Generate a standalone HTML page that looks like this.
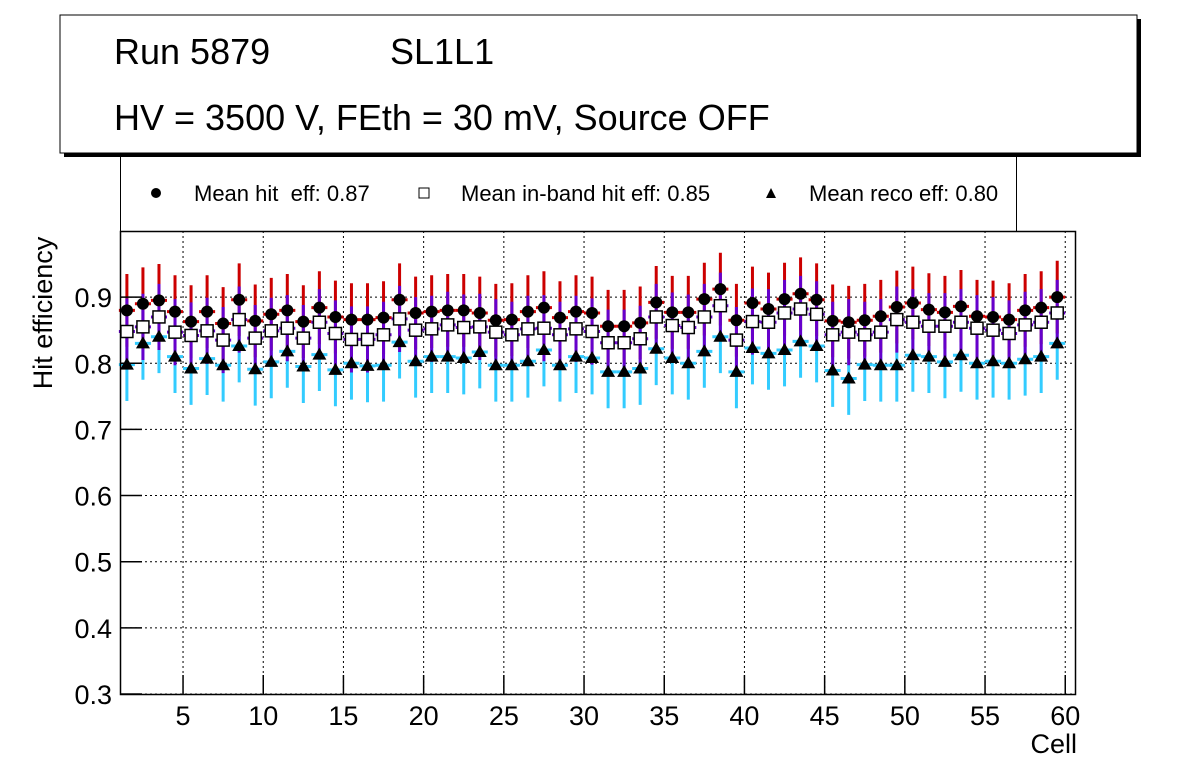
<!DOCTYPE html>
<html><head><meta charset="utf-8"><style>
body{margin:0;background:#fff;font-family:"Liberation Sans",sans-serif}
svg{display:block}
</style></head><body>
<svg id="c" width="1196" height="772" xmlns="http://www.w3.org/2000/svg" font-family="Liberation Sans, sans-serif">
<rect x="64" y="19" width="1077" height="138" fill="#000"/>
<rect x="60" y="15" width="1077" height="138" fill="#fff" stroke="#000" stroke-width="1"/>
<text x="114" y="64" font-size="36">Run 5879</text>
<text x="390" y="64" font-size="36">SL1L1</text>
<text x="114" y="130" font-size="36">HV = 3500 V, FEth = 30 mV, Source OFF</text>
<g>
<path d="M120.5 231 V155.5 H1016.5 V231" fill="none" stroke="#000"/>
<circle cx="156" cy="193" r="5" fill="#000"/>
<text x="194" y="201" font-size="22" xml:space="preserve">Mean hit  eff: 0.87</text>
<rect x="419" y="188" width="10" height="10" fill="#fff" stroke="#000"/>
<text x="461" y="201" font-size="22">Mean in-band hit eff: 0.85</text>
<path d="M771 188 L776 198 L766 198Z" fill="#000"/>
<text x="809" y="201" font-size="22">Mean reco eff: 0.80</text>
</g>
<g id="grid"></g>
<g id="marks"></g>
<rect x="120.5" y="231.5" width="955" height="463" fill="none" stroke="#000" stroke-width="1.5"/>
<g id="axes"></g>
<text transform="translate(52,313) rotate(-90)" text-anchor="middle" font-size="27">Hit efficiency</text>
<text x="1077" y="753" text-anchor="end" font-size="27">Cell</text>
</svg>
<script>
const cells=[];for(let i=1;i<=59;i++)cells.push(i);
const hitEff=[0.88,0.89,0.895,0.878,0.863,0.878,0.86,0.896,0.864,0.874,0.88,0.863,0.884,0.87,0.866,0.866,0.869,0.896,0.876,0.878,0.88,0.88,0.876,0.865,0.866,0.878,0.884,0.869,0.878,0.876,0.856,0.856,0.861,0.892,0.877,0.877,0.897,0.912,0.865,0.891,0.882,0.897,0.905,0.896,0.864,0.862,0.865,0.871,0.885,0.891,0.881,0.877,0.886,0.871,0.87,0.866,0.88,0.884,0.9];
const bandEff=[0.848,0.855,0.87,0.847,0.842,0.849,0.835,0.866,0.838,0.849,0.853,0.838,0.862,0.845,0.836,0.836,0.843,0.867,0.85,0.852,0.858,0.854,0.855,0.847,0.843,0.852,0.853,0.843,0.852,0.848,0.831,0.831,0.837,0.87,0.857,0.854,0.87,0.887,0.835,0.863,0.862,0.876,0.882,0.874,0.843,0.847,0.843,0.847,0.866,0.862,0.856,0.856,0.862,0.853,0.85,0.845,0.858,0.862,0.876];
const recoEff=[0.798,0.83,0.84,0.81,0.792,0.807,0.797,0.826,0.791,0.802,0.818,0.795,0.813,0.79,0.8,0.796,0.797,0.832,0.803,0.81,0.81,0.808,0.817,0.797,0.797,0.803,0.82,0.797,0.81,0.808,0.787,0.787,0.792,0.822,0.808,0.8,0.818,0.84,0.787,0.823,0.815,0.82,0.833,0.826,0.789,0.777,0.798,0.797,0.797,0.812,0.81,0.802,0.812,0.8,0.803,0.8,0.806,0.81,0.83];
const hitErr=[0.055];const bandErr=[0.05];const recoErr=[0.055];
const xTicks=[5,10,15,20,25,30,35,40,45,50,55,60];
const yTicks=[0.3,0.4,0.5,0.6,0.7,0.8,0.9];
const X=v=>120+(v-1.07)*16.04, Y=v=>694-(v-0.3)*661.5;
const NS='http://www.w3.org/2000/svg';
function mk(p,t,a){const e=document.createElementNS(NS,t);for(const k in a)e.setAttribute(k,a[k]);p.appendChild(e);return e;}
const grid=document.getElementById('grid'),axes=document.getElementById('axes'),marks=document.getElementById('marks');
xTicks.forEach(t=>{const x=X(t);
 const g=mk(grid,'line',{x1:x,x2:x,y1:231,y2:694,stroke:'#000','stroke-dasharray':'2,3','stroke-width':1});
 
 
 const tk=mk(axes,'line',{x1:x,x2:x,y1:694,y2:675,stroke:'#000','stroke-width':1.5});
 
 
 const l=mk(axes,'text',{x:x,y:725,'text-anchor':'middle','font-size':27});l.textContent=t;
 
 });
yTicks.forEach(t=>{const y=Y(t);
 const g=mk(grid,'line',{x1:120,x2:1075,y1:y,y2:y,stroke:'#000','stroke-dasharray':'2,3','stroke-width':1});
 
 
 const tk=mk(axes,'line',{x1:120,x2:142,y1:y,y2:y,stroke:'#000','stroke-width':1.5});
 
 
 const l=mk(axes,'text',{x:112,y:y+10,'text-anchor':'end','font-size':27});l.textContent=t.toFixed(1);
 
 });
function series(vals,errs,col,name){
 const g=mk(marks,'g',{});
 
 
 vals.forEach((v,i)=>{const c=cells[i]+0.5,x=X(c),y=Y(v),e=errs[i%errs.length];
  mk(g,'line',{x1:X(c-0.5),x2:X(c+0.5),y1:y,y2:y,stroke:col,'stroke-width':3});
  mk(g,'line',{x1:x,x2:x,y1:Y(v+e),y2:Y(v-e),stroke:col,'stroke-width':3});
 });
 return g;}
function markers(vals,name,shape){
 const g=mk(marks,'g',{});
 
 
 vals.forEach((v,i)=>{const x=X(cells[i]+0.5),y=Y(v);let m;
  if(shape==='c')m=mk(g,'circle',{cx:x,cy:y,r:6,fill:'#000'});
  else if(shape==='s')m=mk(g,'rect',{x:x-6,y:y-6,width:12,height:12,fill:'#fff',stroke:'#000','stroke-width':1.5});
  else m=mk(g,'path',{d:`M${x} ${y-7}L${x+7} ${y+5}L${x-7} ${y+5}Z`,fill:'#000'});
  
  });}
series(recoEff,recoErr,'#33ccff','reco-eff');
series(hitEff,hitErr,'#cc0000','hit-eff');
series(bandEff,bandErr,'#6600cc','inband-eff');
markers(recoEff,'reco-eff','t');
markers(bandEff,'inband-eff','s');
markers(hitEff,'hit-eff','c');
</script>
</body></html>
